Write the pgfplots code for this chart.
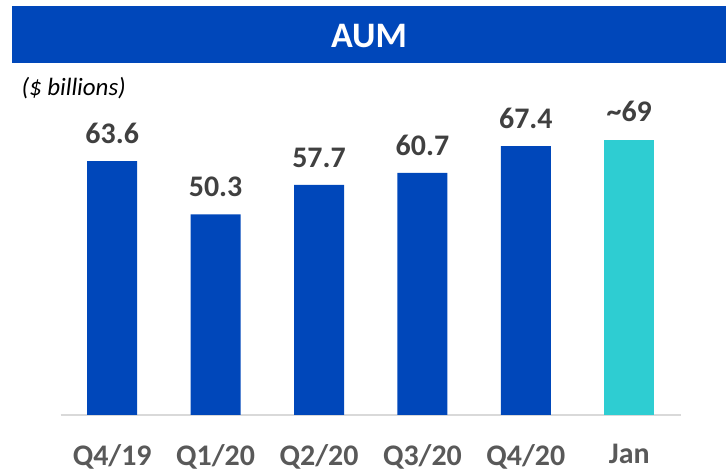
\documentclass[border=0pt]{standalone}
\usepackage{pgfplots}
\pgfplotsset{compat=1.18}
\usepackage{fontspec}
\setmainfont{Carlito}
\definecolor{aumblue}{HTML}{0047BA}
\definecolor{aumcyan}{HTML}{2ECDD2}
\definecolor{ticktext}{HTML}{595959}
\definecolor{valtext}{HTML}{404040}
\definecolor{basegray}{HTML}{D9D9D9}
\begin{document}
\begin{tikzpicture}
\useasboundingbox (0,0) rectangle (726bp,473bp);
% title banner
\fill[aumblue] (12bp,410bp) rectangle (726bp,467bp);
\node[text=white, font=\fontsize{36}{40}\selectfont\bfseries] at (369bp,437bp) {AUM};
\node[anchor=west, font=\fontsize{25}{28}\selectfont\itshape] at (18bp,385bp) {(\$ billions)};
\begin{axis}[
  at={(60.5bp,58bp)}, anchor=south west,
  scale only axis, width=620.5bp, height=319.2bp,
  xmin=-0.5, xmax=5.5, ymin=0, ymax=80,
  axis y line=none, axis x line*=bottom,
  x axis line style={draw=basegray, line width=1.5pt},
  major tick length=0pt,
  xtick={0,...,5},
  xticklabels={Q4/19,Q1/20,Q2/20,Q3/20,Q4/20,Jan},
  xticklabel style={font=\fontsize{30}{34}\selectfont\bfseries, text=ticktext, yshift=-26bp},
  /pgf/number format/assume math mode=true,
  ybar, bar width=50bp, bar shift=0pt,
  nodes near coords,
  nodes near coords style={font=\fontsize{30}{34}\selectfont\bfseries, text=valtext, yshift=14bp},
  clip=false,
]
\addplot[fill=aumblue, draw=none] coordinates {
  (0,63.6) (1,50.3) (2,57.7) (3,60.7) (4,67.4)
};
\addplot[fill=aumcyan, draw=none, nodes near coords={\textasciitilde 69}] coordinates {
  (5,69)
};
\end{axis}
\end{tikzpicture}
\end{document}
